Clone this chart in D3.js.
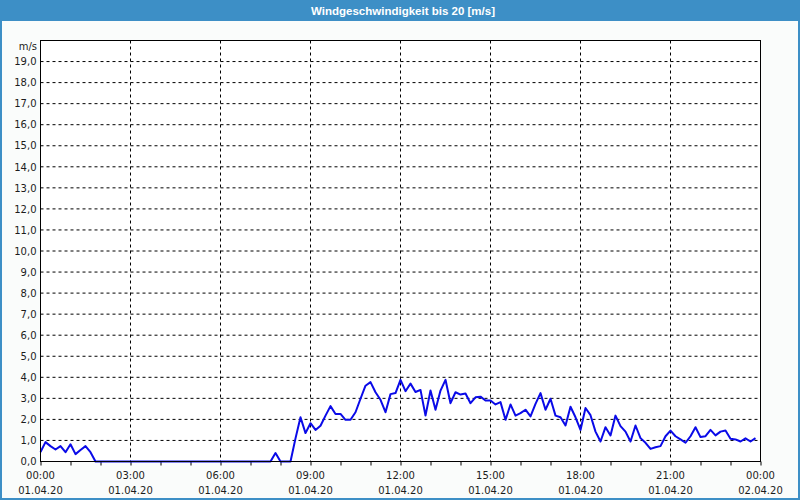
<!DOCTYPE html>
<html>
<head>
<meta charset="utf-8">
<script src="https://cdn.jsdelivr.net/npm/d3@7"></script>
<style>
  html, body { margin: 0; padding: 0; background: #fafcfb; }
  svg { display: block; }
</style>
</head>
<body>
<script>
// ---- data ----
const chartTitle = "Windgeschwindigkeit bis 20 [m/s]";
const unitLabel = "m/s";
const dateLabels = ["01.04.20","01.04.20","01.04.20","01.04.20","01.04.20","01.04.20","01.04.20","01.04.20","02.04.20"];
const labelHours = [0, 3, 6, 9, 12, 15, 18, 21, 24];
const yTicks = d3.range(0, 20, 1);
const sampleMinutes = 10;
// wind speed every 10 minutes from 00:00 to 23:50
const windSpeed = [
  0.45, 0.92, 0.73, 0.57, 0.73, 0.44,   // 00
  0.82, 0.35, 0.55, 0.73, 0.44, 0.0,    // 01
  0, 0, 0, 0, 0, 0,                     // 02
  0, 0, 0, 0, 0, 0,                     // 03
  0, 0, 0, 0, 0, 0,                     // 04
  0, 0, 0, 0, 0, 0,                     // 05
  0, 0, 0, 0, 0, 0,                     // 06
  0, 0, 0, 0, 0, 0.4,                   // 07
  0, 0, 0, 1.1, 2.1, 1.35,              // 08
  1.82, 1.5, 1.7, 2.18, 2.63, 2.26,     // 09
  2.26, 1.98, 1.98, 2.34, 2.98, 3.6,    // 10
  3.77, 3.29, 2.93, 2.34, 3.2, 3.25,    // 11
  3.88, 3.34, 3.7, 3.3, 3.4, 2.18,      // 12
  3.37, 2.46, 3.37, 3.88, 2.77, 3.29,   // 13
  3.18, 3.23, 2.77, 3.05, 3.08, 2.9,    // 14
  2.9, 2.71, 2.82, 1.98, 2.71, 2.18,    // 15
  2.3, 2.46, 2.14, 2.74, 3.25, 2.46,    // 16
  2.98, 2.18, 2.1, 1.71, 2.6, 2.1,      // 17
  1.5, 2.54, 2.2, 1.42, 0.95, 1.63,     // 18
  1.24, 2.18, 1.68, 1.42, 0.95, 1.71,   // 19
  1.11, 0.89, 0.6, 0.68, 0.73, 1.2,     // 20
  1.47, 1.2, 1.05, 0.89, 1.2, 1.63,     // 21
  1.16, 1.2, 1.5, 1.24, 1.42, 1.47,     // 22
  1.08, 1.05, 0.95, 1.1, 0.95, 1.11     // 23
];

// ---- layout ----
const W = 800, H = 500;
const plot = { left: 40.5, right: 760.5, top: 40.5, bottom: 461.5 };
const font = "'DejaVu Sans', sans-serif";
const textColor = "#1c1c1c";

const svg = d3.select("body").append("svg")
  .attr("width", W).attr("height", H);

// background + frame
svg.append("rect").attr("x", 0).attr("y", 0).attr("width", W).attr("height", H)
  .attr("fill", "#fafcfb");
svg.append("rect").attr("x", 0).attr("y", 0).attr("width", W).attr("height", 21)
  .attr("fill", "#3d8fc6");
svg.append("line").attr("x1", 1).attr("x2", 1).attr("y1", 0).attr("y2", H)
  .attr("stroke", "#3d8fc6").attr("stroke-width", 2);
svg.append("line").attr("x1", W - 1).attr("x2", W - 1).attr("y1", 0).attr("y2", H)
  .attr("stroke", "#3d8fc6").attr("stroke-width", 2);
svg.append("line").attr("x1", 0).attr("x2", W).attr("y1", H - 1).attr("y2", H - 1)
  .attr("stroke", "#3d8fc6").attr("stroke-width", 2);

svg.append("text").attr("x", 403).attr("y", 14.5)
  .attr("text-anchor", "middle")
  .attr("font-family", "'Liberation Sans', sans-serif")
  .attr("font-weight", "bold").attr("font-size", 11.5)
  .attr("fill", "#ffffff").text(chartTitle);

// scales
const x = d3.scaleLinear().domain([0, 24]).range([plot.left, plot.right]);
const y = d3.scaleLinear().domain([0, 20]).range([plot.bottom, plot.top]);

// plot background
svg.append("rect").attr("x", plot.left).attr("y", plot.top)
  .attr("width", plot.right - plot.left).attr("height", plot.bottom - plot.top)
  .attr("fill", "#ffffff");

// horizontal grid
svg.append("g").selectAll("line").data(yTicks.filter(d => d > 0)).join("line")
  .attr("x1", plot.left).attr("x2", plot.right)
  .attr("y1", d => y(d)).attr("y2", d => y(d))
  .attr("stroke", "#000").attr("stroke-width", 1).attr("stroke-dasharray", "3,3");

// vertical grid
svg.append("g").selectAll("line").data(labelHours.filter(h => h > 0 && h < 24)).join("line")
  .attr("x1", d => x(d)).attr("x2", d => x(d))
  .attr("y1", plot.top).attr("y2", plot.bottom)
  .attr("stroke", "#000").attr("stroke-width", 1).attr("stroke-dasharray", "3,3");

// x axis hourly ticks
const xAxis = d3.axisBottom(x).tickValues(d3.range(0, 25, 1)).tickSize(4).tickFormat("");
const gx = svg.append("g").attr("transform", `translate(0,${plot.bottom})`).call(xAxis);
gx.select(".domain").remove();
gx.selectAll(".tick line").attr("stroke", "#000");

// x labels (two lines)
const xl = svg.append("g").selectAll("text").data(labelHours).join("text")
  .attr("x", d => x(d)).attr("text-anchor", "middle")
  .attr("font-family", font).attr("font-size", 10).attr("fill", textColor);
xl.append("tspan").attr("x", d => x(d)).attr("y", 479)
  .text(d => String(d % 24).padStart(2, "0") + ":00");
xl.append("tspan").attr("x", d => x(d)).attr("y", 493.5)
  .text((d, i) => dateLabels[i]);

// y axis labels
const yAxis = d3.axisLeft(y).tickValues(yTicks).tickSize(0).tickPadding(4)
  .tickFormat(d => d3.format(".1f")(d).replace(".", ","));
const gy = svg.append("g").attr("transform", `translate(${plot.left},0)`).call(yAxis);
gy.select(".domain").remove();
gy.selectAll("text").attr("font-family", font).attr("font-size", 10).attr("fill", textColor);

svg.append("text").attr("x", 37).attr("y", 50).attr("text-anchor", "end")
  .attr("font-family", font).attr("font-size", 10).attr("fill", textColor).text(unitLabel);

// data line
const line = d3.line()
  .x((d, i) => x(i * sampleMinutes / 60))
  .y(d => y(d));
svg.append("path").datum(windSpeed)
  .attr("d", line).attr("fill", "none")
  .attr("stroke", "#0a0ae8").attr("stroke-width", 2).attr("stroke-linejoin", "round");

// plot frame
svg.append("rect").attr("x", plot.left).attr("y", plot.top)
  .attr("width", plot.right - plot.left).attr("height", plot.bottom - plot.top)
  .attr("fill", "none").attr("stroke", "#000").attr("stroke-width", 1);
</script>
</body>
</html>
